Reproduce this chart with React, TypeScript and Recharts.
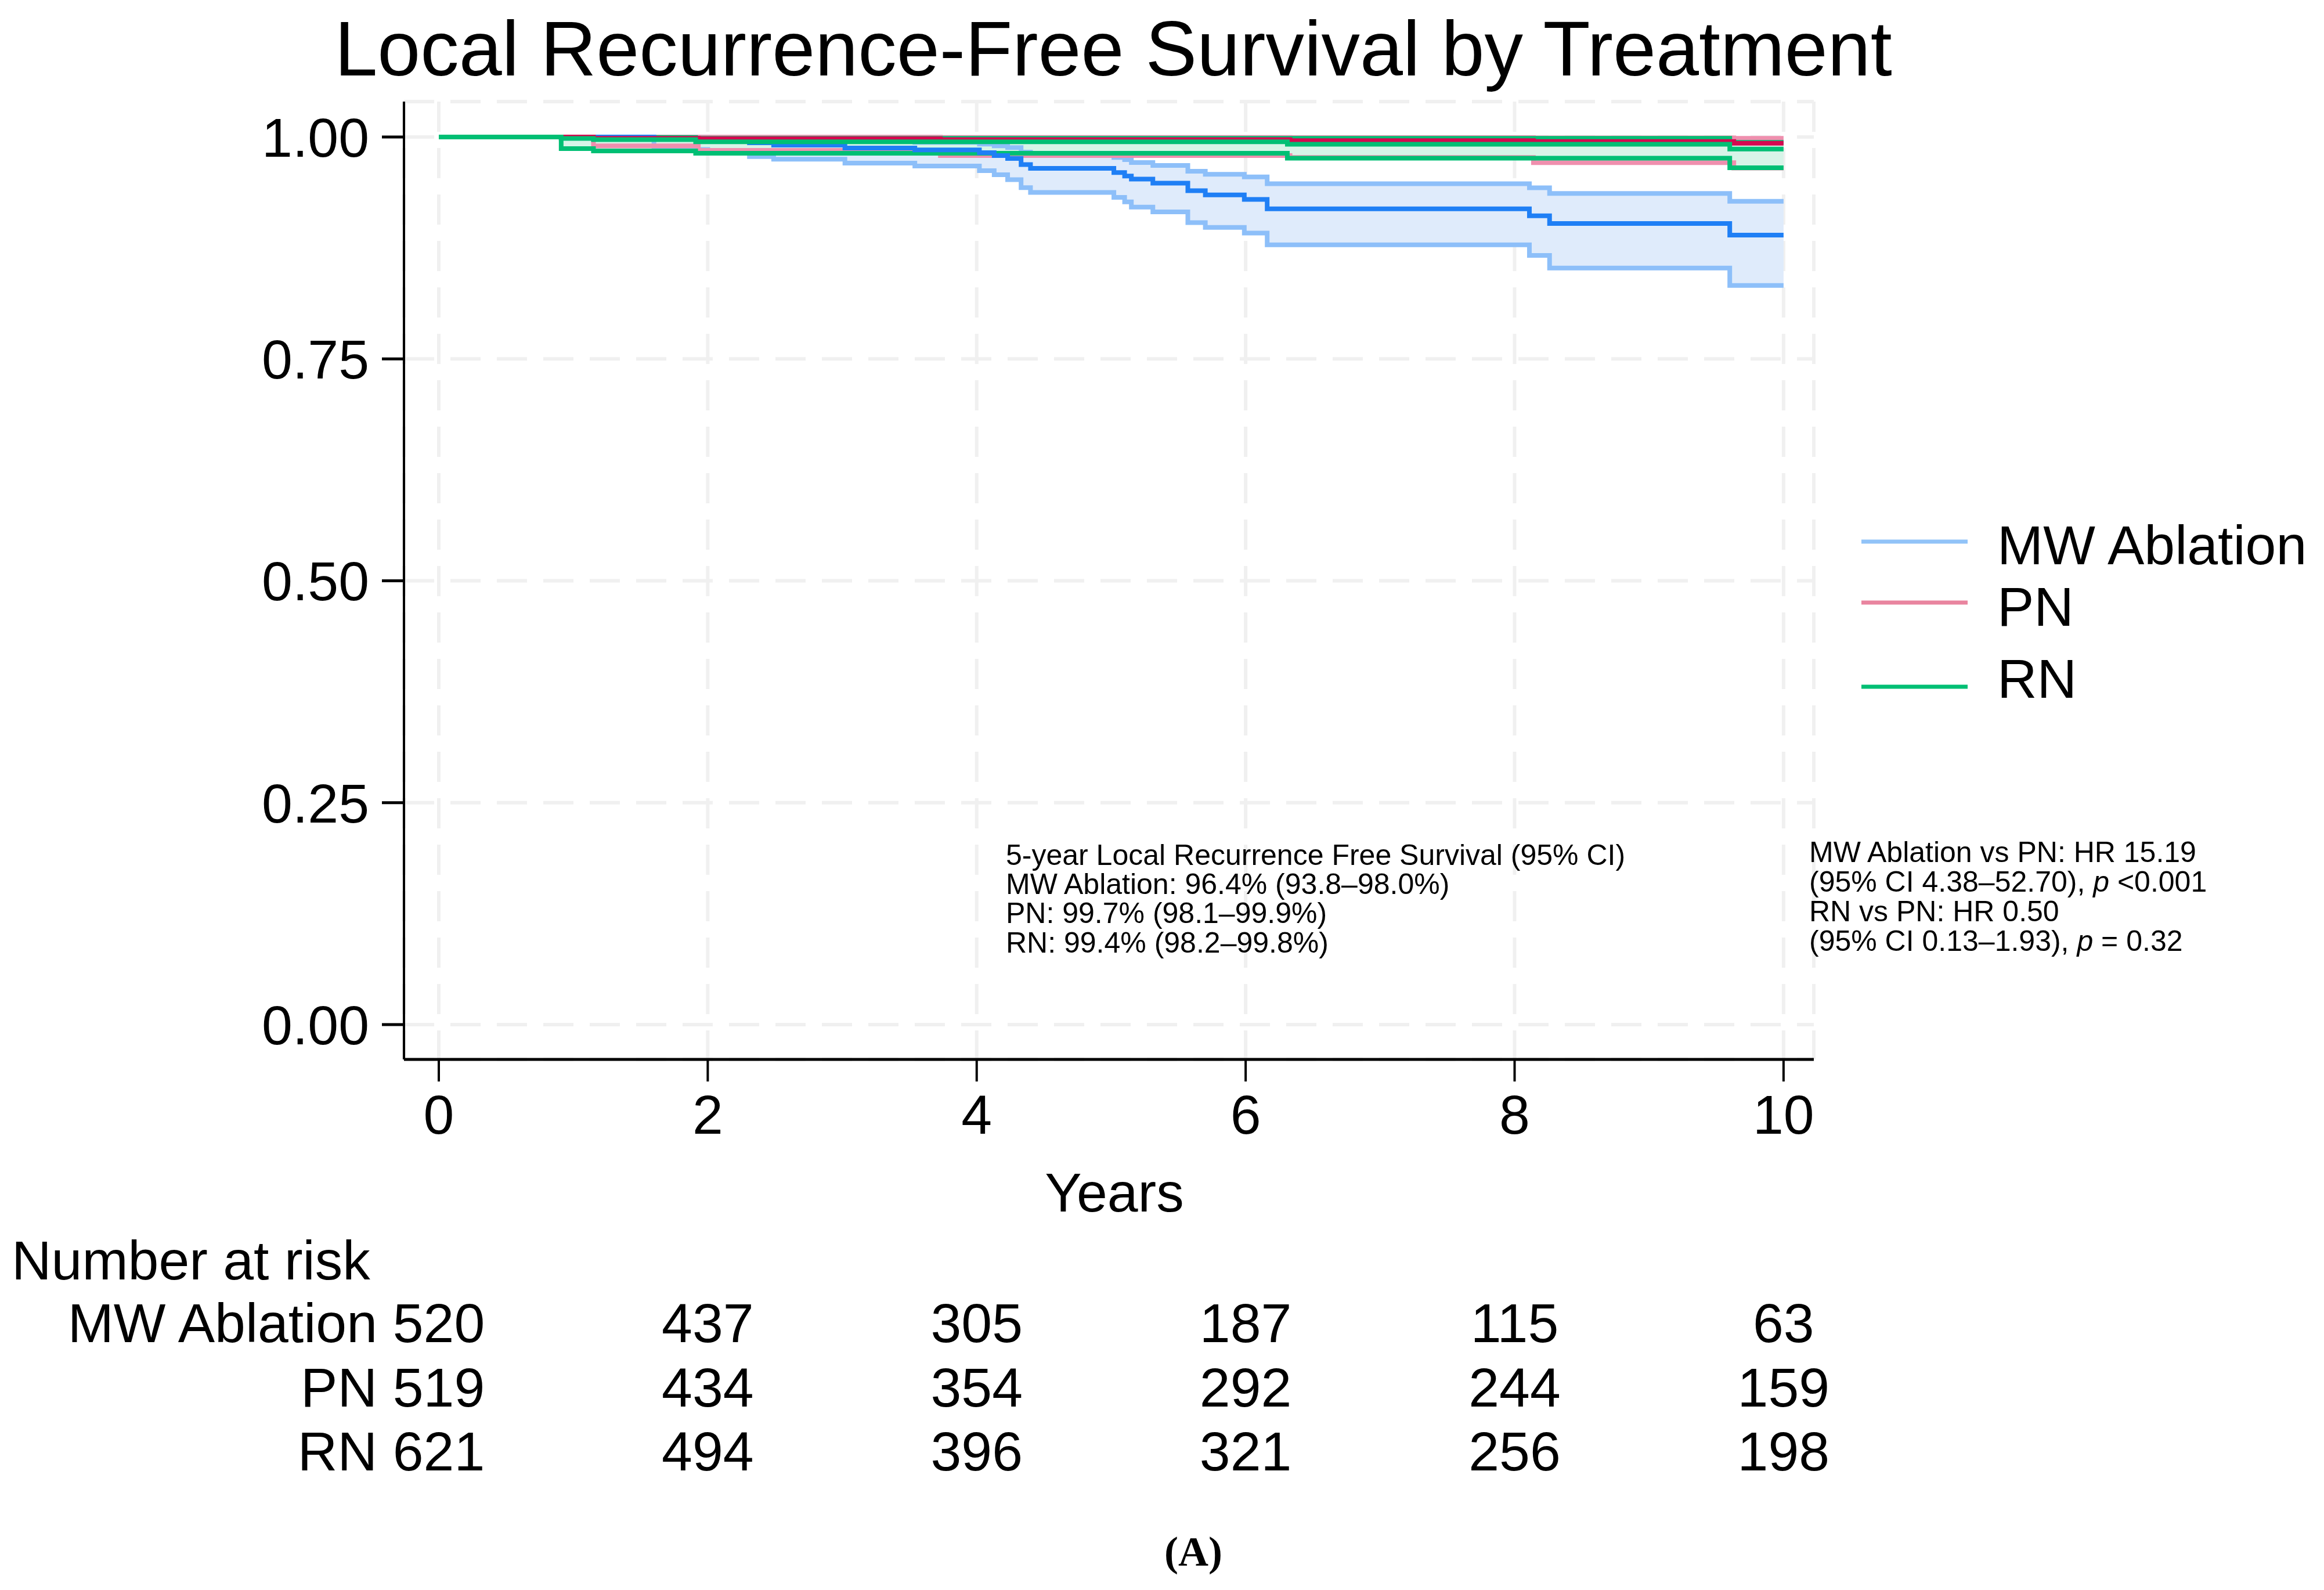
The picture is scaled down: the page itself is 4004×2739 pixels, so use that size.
import React from 'react';
import { ComposedChart, Line, Area, XAxis, YAxis, CartesianGrid } from 'recharts';

const W = 4004;
const H = 2739;
const FONT = '"Liberation Sans", Arial, Helvetica, sans-serif';

// ---- data ----
const xTicks = [0, 2, 4, 6, 8, 10];
const yTicks = [0, 0.25, 0.5, 0.75, 1];

const mwTimes = [0, 1.6, 2.0, 2.31, 2.49, 3.02, 3.54, 4.02, 4.13, 4.23, 4.33, 4.4, 5.02, 5.1, 5.15, 5.31, 5.57, 5.7, 5.99, 6.16, 8.11, 8.26, 9.6, 10];
const mwSurv = [1, 0.998, 0.9955, 0.9935, 0.9908, 0.9876, 0.9854, 0.9823, 0.979, 0.9758, 0.969, 0.9647, 0.96, 0.956, 0.9526, 0.948, 0.9395, 0.9347, 0.9297, 0.919, 0.9112, 0.9025, 0.8895, 0.8895];
const mwLower = [1, 0.986, 0.982, 0.978, 0.975, 0.9706, 0.9673, 0.962, 0.9575, 0.952, 0.9429, 0.9375, 0.932, 0.927, 0.9211, 0.9156, 0.9036, 0.8982, 0.8917, 0.8786, 0.8666, 0.8524, 0.8328, 0.8328];
const mwUpper = [1, 0.9998, 0.999, 0.998, 0.997, 0.995, 0.994, 0.992, 0.99, 0.988, 0.983, 0.98, 0.977, 0.9745, 0.9712, 0.968, 0.9614, 0.958, 0.955, 0.9473, 0.9428, 0.9364, 0.9276, 0.9276];

const pnTimes = [0, 1.15, 1.93, 3.73, 6.33, 8.14, 9.63, 10];
const pnSurv = [1, 0.9985, 0.998, 0.997, 0.996, 0.995, 0.993, 0.993];
const pnLower = [1, 0.99, 0.985, 0.979, 0.977, 0.971, 0.965, 0.965];
const pnUpper = [1, 0.9999, 0.9998, 0.9995, 0.9993, 0.999, 0.9985, 0.9985];

const rnTimes = [0, 0.91, 1.15, 1.91, 6.31, 9.6, 10];
const rnSurv = [1, 0.9984, 0.997, 0.9946, 0.9919, 0.9865, 0.9865];
const rnLower = [1, 0.987, 0.9843, 0.9817, 0.9762, 0.9653, 0.9653];
const rnUpper = [1, 0.9998, 0.9995, 0.9985, 0.9985, 0.994, 0.994];

const riskLabels = ['MW Ablation', 'PN', 'RN'];
const riskMW = [520, 437, 305, 187, 115, 63];
const riskPN = [519, 434, 354, 292, 244, 159];
const riskRN = [621, 494, 396, 321, 256, 198];

const legendLabels = ['MW Ablation', 'PN', 'RN'];

// ---- colours ----
const C = {
  mw: '#1f7ff5', mwCi: '#8dbff9', mwFill: '#dfebfb',
  pn: '#d4084f', pnCi: '#ef8fae', pnFill: '#fbe4ec',
  rn: '#00bf74', rnCi: '#00bf74', rnFill: '#d7f4e8',
  legMw: '#91c3f8', legPn: '#e9849f', legRn: '#00bf74',
  grid: '#f0f0f0',
};

function stepAt(times: number[], vals: number[], t: number): number {
  let v = vals[0];
  for (let i = 0; i < times.length; i++) {
    if (times[i] <= t + 1e-9) v = vals[i];
  }
  return v;
}

const allTimes = Array.from(new Set([...mwTimes, ...pnTimes, ...rnTimes])).sort((a, b) => a - b);
const data = allTimes.map((t) => {
  const mwLo = stepAt(mwTimes, mwLower, t);
  const mwHi = stepAt(mwTimes, mwUpper, t);
  const pnLo = stepAt(pnTimes, pnLower, t);
  const pnHi = stepAt(pnTimes, pnUpper, t);
  const rnLo = stepAt(rnTimes, rnLower, t);
  const rnHi = stepAt(rnTimes, rnUpper, t);
  return {
    t,
    mw: stepAt(mwTimes, mwSurv, t), mwLo, mwHi, mwBand: [mwLo, mwHi],
    pn: stepAt(pnTimes, pnSurv, t), pnLo, pnHi, pnBand: [pnLo, pnHi],
    rn: stepAt(rnTimes, rnSurv, t), rnLo, rnHi, rnBand: [rnLo, rnHi],
  };
});

const riskRows = [riskMW, riskPN, riskRN];
const riskBaselines = [2312, 2423, 2533];

const XTick = (props: any) => {
  const { x, payload } = props;
  const i = xTicks.indexOf(payload.value);
  return (
    <g>
      <text x={x} y={1953} textAnchor="middle" fontSize={95} fontFamily={FONT} fill="#000">
        {payload.value}
      </text>
      {riskRows.map((row, r) => (
        <text key={r} x={x} y={riskBaselines[r]} textAnchor="middle" fontSize={95} fontFamily={FONT} fill="#000">
          {row[i]}
        </text>
      ))}
    </g>
  );
};

const YTick = (props: any) => {
  const { x, y, payload } = props;
  return (
    <text x={x} y={y} dy="0.355em" textAnchor="end" fontSize={95} fontFamily={FONT} fill="#000">
      {Number(payload.value).toFixed(2)}
    </text>
  );
};

export default function App() {
  const lineCommon = { type: 'stepAfter' as const, dot: false, activeDot: false, isAnimationActive: false, strokeWidth: 8 };
  return (
    <div style={{ position: 'relative', width: W, height: H, background: '#fff', overflow: 'hidden' }}>
      <style>{`html,body{margin:0;padding:0;overflow:hidden;background:#fff}`}</style>
      <ComposedChart
        width={W}
        height={H}
        data={data}
        margin={{ top: 175, right: W - 3125, bottom: H - 1825 - 100, left: 696 - 300 }}
      >
        <CartesianGrid stroke={C.grid} strokeWidth={6} strokeDasharray="52 28" />
        <XAxis
          dataKey="t"
          type="number"
          domain={[-0.259, 10.225]}
          ticks={xTicks}
          interval={0}
          allowDataOverflow
          height={100}
          tickSize={38}
          axisLine={{ stroke: '#000', strokeWidth: 5 }}
          tickLine={{ stroke: '#000', strokeWidth: 4 }}
          tick={<XTick />}
        />
        <YAxis
          type="number"
          domain={[-0.0392, 1.0399]}
          ticks={yTicks}
          interval={0}
          allowDataOverflow
          width={300}
          tickSize={38}
          tickMargin={22}
          axisLine={{ stroke: '#000', strokeWidth: 4 }}
          tickLine={{ stroke: '#000', strokeWidth: 5 }}
          tick={<YTick />}
        />
        <Area dataKey="mwBand" type="stepAfter" fill={C.mwFill} fillOpacity={1} stroke="none" isAnimationActive={false} activeDot={false} />
        <Area dataKey="pnBand" type="stepAfter" fill={C.pnFill} fillOpacity={1} stroke="none" isAnimationActive={false} activeDot={false} />
        <Area dataKey="rnBand" type="stepAfter" fill={C.rnFill} fillOpacity={1} stroke="none" isAnimationActive={false} activeDot={false} />

        <Line dataKey="mwLo" stroke={C.mwCi} {...lineCommon} />
        <Line dataKey="mwHi" stroke={C.mwCi} {...lineCommon} />
        <Line dataKey="pnLo" stroke={C.pnCi} {...lineCommon} />
        <Line dataKey="pnHi" stroke={C.pnCi} {...lineCommon} />
        <Line dataKey="rnLo" stroke={C.rnCi} {...lineCommon} />
        <Line dataKey="rnHi" stroke={C.rnCi} {...lineCommon} />

        <Line dataKey="mw" stroke={C.mw} {...lineCommon} />
        <Line dataKey="pn" stroke={C.pn} {...lineCommon} />
        <Line dataKey="rn" stroke={C.rn} {...lineCommon} />
      </ComposedChart>

      <svg width={W} height={H} style={{ position: 'absolute', left: 0, top: 0, pointerEvents: 'none' }}>
        <text x={1918} y={130} textAnchor="middle" fontSize={133} fontFamily={FONT} fill="#000">
          Local Recurrence-Free Survival by Treatment
        </text>

        <text x={1920} y={2087} textAnchor="middle" fontSize={95} fontFamily={FONT} fill="#000">Years</text>

        {/* legend */}
        <line x1={3207} x2={3390} y1={933} y2={933} stroke={C.legMw} strokeWidth={7} />
        <line x1={3207} x2={3390} y1={1038} y2={1038} stroke={C.legPn} strokeWidth={7} />
        <line x1={3207} x2={3390} y1={1183} y2={1183} stroke={C.legRn} strokeWidth={7} />
        <text x={3441} y={972} fontSize={95} fontFamily={FONT} fill="#000">{legendLabels[0]}</text>
        <text x={3441} y={1078} fontSize={95} fontFamily={FONT} fill="#000">{legendLabels[1]}</text>
        <text x={3441} y={1202} fontSize={95} fontFamily={FONT} fill="#000">{legendLabels[2]}</text>

        {/* annotations */}
        <g fontSize={50} fontFamily={FONT} fill="#000">
          <text x={1733} y={1490}>5-year Local Recurrence Free Survival (95% CI)</text>
          <text x={1733} y={1540}>MW Ablation: 96.4% (93.8–98.0%)</text>
          <text x={1733} y={1590}>PN: 99.7% (98.1–99.9%)</text>
          <text x={1733} y={1641}>RN: 99.4% (98.2–99.8%)</text>

          <text x={3117} y={1485}>MW Ablation vs PN: HR 15.19</text>
          <text x={3117} y={1536}>(95% CI 4.38–52.70), <tspan fontStyle="italic">p</tspan> &lt;0.001</text>
          <text x={3117} y={1587}>RN vs PN: HR 0.50</text>
          <text x={3117} y={1638}>(95% CI 0.13–1.93), <tspan fontStyle="italic">p</tspan> = 0.32</text>
        </g>

        {/* number at risk labels */}
        <text x={20} y={2204} fontSize={95} fontFamily={FONT} fill="#000">Number at risk</text>
        {riskLabels.map((l, r) => (
          <text key={l} x={650} y={riskBaselines[r]} textAnchor="end" fontSize={95} fontFamily={FONT} fill="#000">{l}</text>
        ))}

        <text x={2056} y={2697} textAnchor="middle" fontSize={72} fontWeight="bold" fontFamily='"Liberation Serif", "Times New Roman", serif' fill="#000">(A)</text>
      </svg>
    </div>
  );
}
